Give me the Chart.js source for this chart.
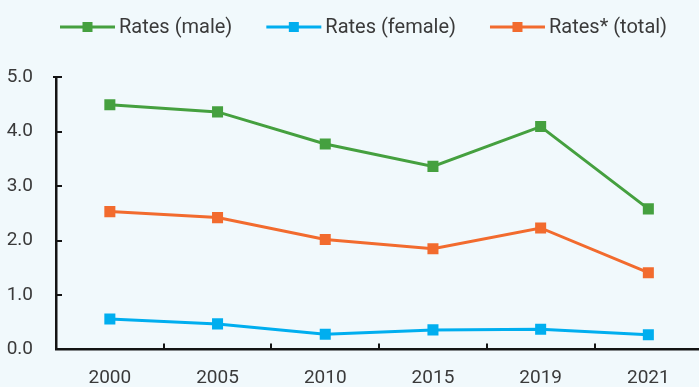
<!DOCTYPE html>
<html>
<head>
<meta charset="utf-8">
<script src="https://cdn.jsdelivr.net/npm/chart.js@4.4.1/dist/chart.umd.min.js"></script>
<style>
  html, body { margin: 0; padding: 0; background: #f1f9fc; overflow: hidden; }
  canvas { display: block; }
</style>
</head>
<body>
<canvas id="chart" width="710" height="387"></canvas>
<script>
// rates per year
const years = ['2000', '2005', '2010', '2015', '2019', '2021'];
const ratesMale = [4.49, 4.36, 3.77, 3.36, 4.09, 2.58];
const ratesFemale = [0.56, 0.47, 0.28, 0.36, 0.37, 0.27];
const ratesTotal = [2.53, 2.42, 2.02, 1.85, 2.23, 1.41];
const seriesLabels = ['Rates (male)', 'Rates (female)', 'Rates* (total)'];
const seriesColors = ['#45a03f', '#00aeef', '#f26b2e'];
const yTicks = [0, 1, 2, 3, 4, 5];

const FONT = "Roboto, 'DejaVu Sans', sans-serif";
const TEXT = '#3a3a3a';
const AXIS = '#141414';

// tick marks point into the plot, so draw them by hand off the scales
const inwardTicks = {
    id: 'inwardTicks',
    afterDraw(chart) {
        const { ctx, chartArea } = chart;
        const xs = chart.scales.x;
        const ys = chart.scales.y;
        ctx.save();
        ctx.strokeStyle = AXIS;
        ctx.lineWidth = 2;
        ctx.beginPath();
        for (let i = 1; i < years.length; i++) {
            const x = Math.round((xs.getPixelForValue(i - 1) + xs.getPixelForValue(i)) / 2);
            ctx.moveTo(x, chartArea.bottom);
            ctx.lineTo(x, chartArea.bottom - 6);
        }
        yTicks.forEach(v => {
            if (v === 0) return;
            const y = Math.round(ys.getPixelForValue(v));
            const start = v === yTicks[yTicks.length - 1] ? chartArea.left - 3 : chartArea.left;
            ctx.moveTo(start, y);
            ctx.lineTo(chartArea.left + 6, y);
        });
        ctx.stroke();
        ctx.restore();
    }
};

// legend row: line + square marker + label
const lineLegend = {
    id: 'lineLegend',
    afterDraw(chart) {
        const { ctx } = chart;
        const y = 27;
        let x = 60;
        ctx.save();
        ctx.font = '20px ' + FONT;
        ctx.textBaseline = 'middle';
        chart.data.datasets.forEach(ds => {
            ctx.strokeStyle = ds.borderColor;
            ctx.lineWidth = 3;
            ctx.beginPath();
            ctx.moveTo(x, y);
            ctx.lineTo(x + 55, y);
            ctx.stroke();
            ctx.fillStyle = ds.borderColor;
            ctx.fillRect(x + 22.5, y - 5, 10, 10);
            ctx.fillStyle = TEXT;
            ctx.fillText(ds.label, x + 59, y + 1);
            x += 59 + ctx.measureText(ds.label).width + 34;
        });
        ctx.restore();
    }
};

function lineSet(label, data, color) {
    return {
        label: label,
        data: data,
        borderColor: color,
        backgroundColor: color,
        borderWidth: 3,
        pointStyle: 'rect',
        pointRadius: 7.8,
        pointHoverRadius: 7.8,
        pointBorderWidth: 0,
        tension: 0
    };
}

new Chart(document.getElementById('chart'), {
    type: 'line',
    data: {
        labels: years,
        datasets: [
            lineSet(seriesLabels[0], ratesMale, seriesColors[0]),
            lineSet(seriesLabels[1], ratesFemale, seriesColors[1]),
            lineSet(seriesLabels[2], ratesTotal, seriesColors[2])
        ]
    },
    options: {
        responsive: false,
        animation: false,
        layout: { padding: { top: 77, right: 1, left: 0, bottom: 0 } },
        plugins: {
            legend: { display: false },
            tooltip: { enabled: false }
        },
        scales: {
            x: {
                offset: true,
                grid: { display: false, drawTicks: false },
                border: { display: true, color: AXIS, width: 2.5 },
                ticks: { color: TEXT, font: { family: FONT, size: 19 }, padding: 17, maxRotation: 0 },
                afterFit(scale) { scale.height = 37.5; }
            },
            y: {
                min: 0,
                max: 5,
                afterBuildTicks(scale) { scale.ticks = yTicks.map(v => ({ value: v })); },
                grid: { display: false, drawTicks: false },
                border: { display: true, color: AXIS, width: 2.5 },
                ticks: {
                    color: TEXT,
                    font: { family: FONT, size: 19 },
                    padding: 23,
                    callback: v => v.toFixed(1)
                },
                afterFit(scale) { scale.width = 56; }
            }
        }
    },
    plugins: [inwardTicks, lineLegend]
});
</script>
</body>
</html>
